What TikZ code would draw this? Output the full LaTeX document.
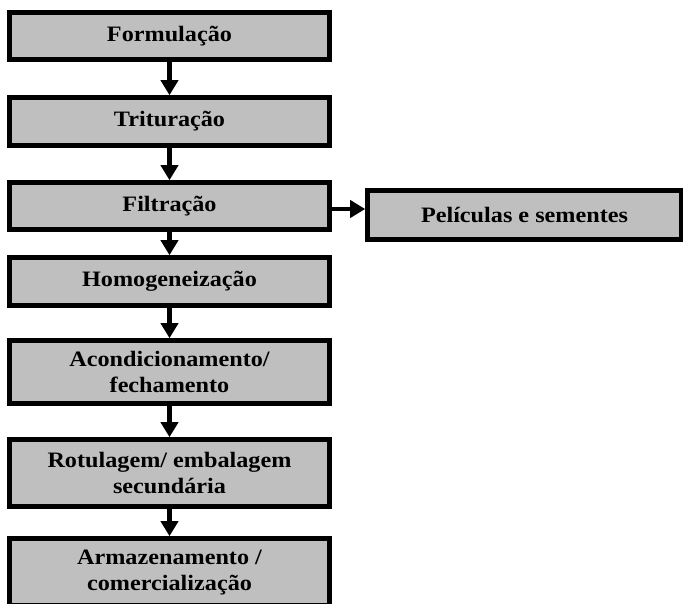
\documentclass[tikz,border=0pt]{standalone}
\usepackage{fontspec}
\setmainfont[FakeStretch=1.1]{Liberation Serif}
\usetikzlibrary{arrows.meta}
\begin{document}
\begin{tikzpicture}[x=1pt,y=-1pt,line join=miter,
		etapa/.style={draw=black,fill=gray!50,line width=4.6pt,minimum width=320pt,inner sep=2pt,align=center,font=\bfseries\fontsize{22}{26}\selectfont},
		seta/.style={line width=4.5pt,-{Triangle[width=17pt,length=15pt]}}]
	\useasboundingbox (0,0) rectangle (683,603);
	% etapas do processo
	\node[etapa,minimum height=47pt] (form) at (169.5,36) {Formulação};
	\node[etapa,minimum height=48pt] (trit) at (169.5,121.5) {Trituração};
	\node[etapa,minimum height=47pt] (filt) at (169.5,206) {Filtração};
	\node[etapa,minimum height=48pt] (homo) at (169.5,281.5) {Homogeneização};
	\node[etapa,minimum height=63pt] (acond) at (169.5,372) {Acondicionamento/\\fechamento};
	\node[etapa,minimum height=67pt] (rotul) at (169.5,473) {Rotulagem/ embalagem\\secundária};
	\node[etapa,minimum height=67pt] (armaz) at (169.5,572) {Armazenamento /\\comercialização};
	% subproduto
	\node[etapa,minimum width=314pt,minimum height=49pt] (pelic) at (524.5,215) {Películas e sementes};
	% setas
	\draw[seta] (form) -- (trit);
	\draw[seta] (trit) -- (filt);
	\draw[seta] (filt) -- (homo);
	\draw[seta] (homo) -- (acond);
	\draw[seta] (acond) -- (rotul);
	\draw[seta] (rotul) -- (armaz);
	\draw[seta] ([yshift=-3pt]filt.east) -- ([yshift=-3pt]filt.east -| pelic.west);
\end{tikzpicture}
\end{document}
